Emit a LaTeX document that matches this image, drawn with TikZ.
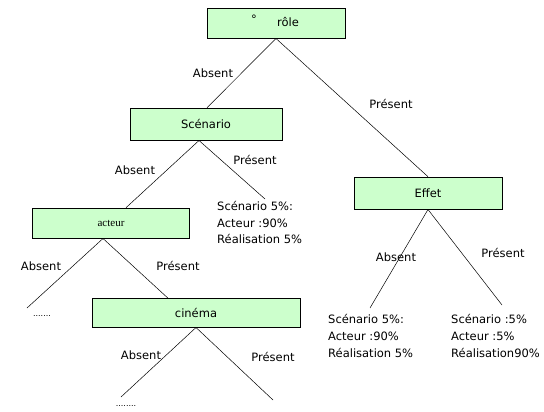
\documentclass[tikz,border=0pt]{standalone}
\usepackage{fontspec}
\setmainfont{DejaVu Sans}
\newfontfamily\serifface{Liberation Serif}
\begin{document}
\begin{tikzpicture}[x=1pt,y=-1pt,
  every node/.style={font=\fontsize{11.5}{13}\selectfont, inner sep=0pt},
  box/.style={draw=black, fill=green!20!white, line width=0.6pt, minimum height=30pt},
  leaf/.style={align=left, anchor=north west, font=\fontsize{11.5}{16.8}\selectfont},
  edge/.style={line width=0.5pt}]
\useasboundingbox (0,0) rectangle (544,412);
\fill[white] (0,0) rectangle (544,412);
% boxes
\node[box, minimum width=138pt] (role) at (276,23) {};
\node (deg) at (254,19) {°};
\node (roletxt) at (288,22) {rôle};
\node[box, minimum width=152pt, minimum height=32pt] (scen) at (206,124) {Scénario};
\node[box, minimum width=157pt] (act) at (111,223) {\fontsize{11}{13}\selectfont\serifface acteur};
\node[box, minimum width=208pt, minimum height=29pt] (cin) at (196,313) {cinéma};
\node[box, minimum width=148pt, minimum height=32pt] (eff) at (428,193) {Effet};
% endpoints
\coordinate (rS) at (276,38.5);
\coordinate (sS) at (199,140.5);
\coordinate (sR) at (265,199);
\coordinate (aS) at (103,238.5);
\coordinate (aL) at (27,308);
\coordinate (cS) at (196,327.5);
\coordinate (cL) at (121,397);
\coordinate (cR) at (273,400);
\coordinate (eS) at (428,209.5);
\coordinate (eL) at (370,308);
\coordinate (eR) at (502,305);
\draw[edge] (rS) -- (scen.north -| 207,0) ;
\draw[edge] (rS) -- (eff.north);
\draw[edge] (sS) -- (act.north -| 126,0);
\draw[edge] (sS) -- (sR);
\draw[edge] (aS) -- (aL);
\draw[edge] (aS) -- (cin.north -| 168,0);
\draw[edge] (cS) -- (cL);
\draw[edge] (cS) -- (cR);
\draw[edge] (eS) -- (eL);
\draw[edge] (eS) -- (eR);
% labels
\node (l1) at (213,73) {Absent};
\node (l2) at (391,104) {Présent};
\node (l3) at (135,170) {Absent};
\node (l4) at (255,160) {Présent};
\node (l5) at (41,266) {Absent};
\node (l6) at (178,266) {Présent};
\node (l7) at (141,355) {Absent};
\node (l8) at (273,357) {Présent};
\node (l9) at (396,257) {Absent};
\node (l10) at (503,253) {Présent};
\node[font=\fontsize{8}{10}\selectfont] (d1) at (42,316) {.......};
\node[font=\fontsize{8}{10}\selectfont] (d2) at (126,406) {........};
\node[leaf] (t1) at (217,201) {Scénario 5\%:\\Acteur :90\%\\Réalisation 5\%};
\node[leaf] (t2) at (328,314) {Scénario 5\%:\\Acteur :90\%\\Réalisation 5\%};
\node[leaf] (t3) at (451,314) {Scénario :5\%\\Acteur :5\%\\Réalisation90\%};
\end{tikzpicture}
\end{document}
